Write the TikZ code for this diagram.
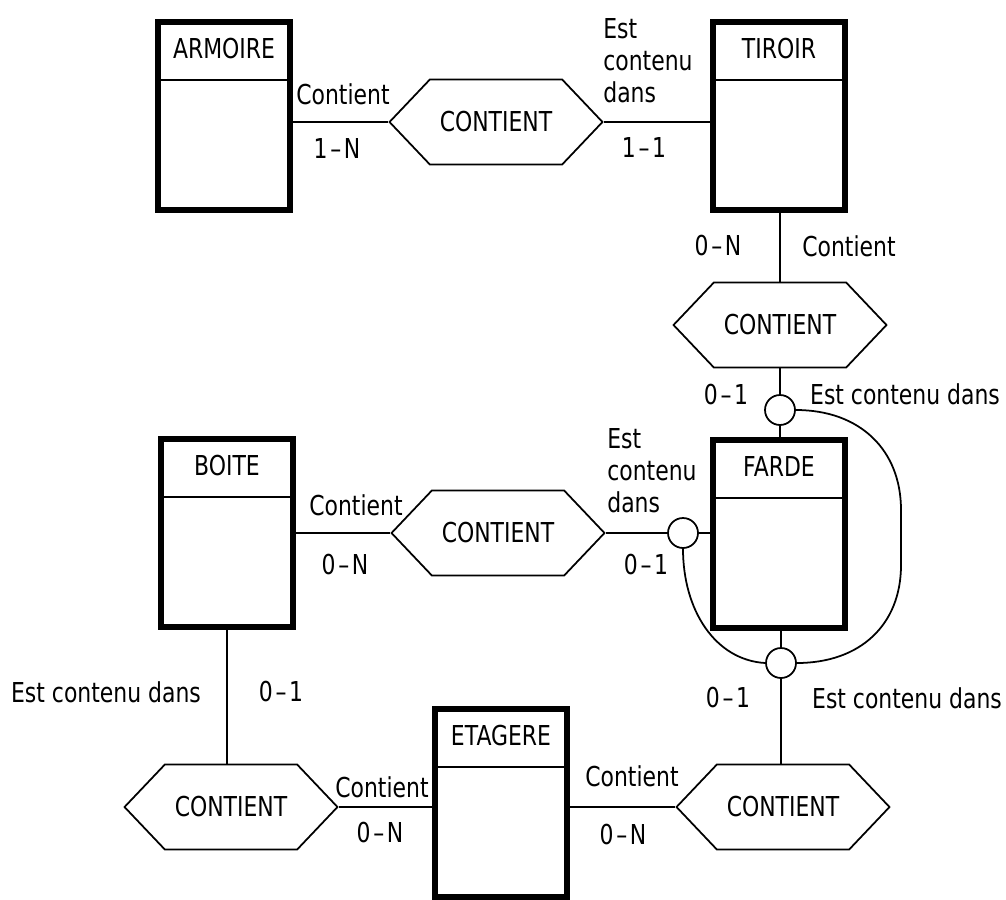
\documentclass[tikz,border=0pt]{standalone}
\usepackage{fontspec}
\setmainfont[FakeStretch=0.8]{DejaVu Sans}
\usetikzlibrary{shapes.symbols}

\begin{document}
\begin{tikzpicture}[
x=0.02cm, y=-0.02cm,
entite/.style={
rectangle,
draw,
line width=3pt,
minimum width=2.64cm,
inner xsep=0pt,
inner ysep=0pt,
text height=0.72cm,
text depth=3.04cm,
font=\fontsize{15.6}{18.2}\selectfont,
path picture={\draw[line width=1pt] ([yshift=-1.16cm]path picture bounding box.north west) -- ([yshift=-1.16cm]path picture bounding box.north east);}
},
relation/.style={
signal,
signal to=east and west,
signal pointer angle=93,
draw,
line width=1pt,
minimum width=4.26cm,
minimum height=1.7cm,
inner sep=0pt,
font=\fontsize{15.6}{18.2}\selectfont
},
rond/.style={
circle,
draw,
line width=1pt,
minimum size=0.6cm,
inner sep=0pt
},
role/.style={
inner sep=0pt,
align=left,
font=\fontsize{15.6}{18.2}\selectfont
},
lien/.style={line width=1pt}
]
\useasboundingbox (0,0) rectangle (1006,899);

\node[entite] (armoire) at (224,116) {ARMOIRE};
\node[entite] (tiroir) at (779,116) {TIROIR};
\node[entite] (boite) at (227,533) {BOITE};
\node[entite] (farde) at (779,534) {FARDE};
\node[entite] (etagere) at (501,803) {ETAGERE};

\node[relation] (relarm) at (496,122) {CONTIENT};
\node[relation] (reltir) at (780,325) {CONTIENT};
\node[relation] (relboi) at (498,533) {CONTIENT};
\node[relation] (reletd) at (783,807) {CONTIENT};
\node[relation] (reletg) at (231,807) {CONTIENT};

\node[rond] (rondhaut) at (780,410) {};
\node[rond] (rondgau) at (683,533) {};
\node[rond] (rondbas) at (781,663) {};

\node[role] (r1) at (343,94) {Contient};
\node[role] (r2) at (337,149) {1\kern1.5pt–\kern1.5pt N};
\node[role, anchor=north west] (r3) at (603,18) {Est\\contenu\\dans};
\node[role] (r4) at (644,148) {1\kern1.5pt–\kern1.5pt 1};
\node[role] (r5) at (718,246) {0\kern1.5pt–\kern1.5pt N};
\node[role] (r6) at (849,246) {Contient};
\node[role] (r7) at (726,395) {0\kern1.5pt–\kern1.5pt 1};
\node[role] (r8) at (905,394) {Est contenu dans};
\node[role, anchor=north west] (r9) at (607,428) {Est\\contenu\\dans};
\node[role] (r10) at (646,565) {0\kern1.5pt–\kern1.5pt 1};
\node[role] (r11) at (356,505) {Contient};
\node[role] (r12) at (345,565) {0\kern1.5pt–\kern1.5pt N};
\node[role] (r13) at (106,692) {Est contenu dans};
\node[role] (r14) at (281,692) {0\kern1.5pt–\kern1.5pt 1};
\node[role] (r15) at (728,698) {0\kern1.5pt–\kern1.5pt 1};
\node[role] (r16) at (907,698) {Est contenu dans};
\node[role] (r17) at (382,787) {Contient};
\node[role] (r18) at (380,833) {0\kern1.5pt–\kern1.5pt N};
\node[role] (r19) at (632,776) {Contient};
\node[role] (r20) at (623,835) {0\kern1.5pt–\kern1.5pt N};

\draw[lien] (armoire.east |- relarm.west) -- (relarm.west);
\draw[lien] (relarm.east) -- (relarm.east -| tiroir.west);
\draw[lien] (reltir.north) -- (reltir.north |- tiroir.south);
\draw[lien] (rondhaut.north) -- (rondhaut.north |- reltir.south);
\draw[lien] (rondhaut.south) -- (rondhaut.south |- farde.north);
\draw[lien] (boite.east |- relboi.west) -- (relboi.west);
\draw[lien] (relboi.east) -- (rondgau.west);
\draw[lien] (rondgau.east) -- (rondgau.east -| farde.west);
\draw[lien] (rondbas.north) -- (rondbas.north |- farde.south);
\draw[lien] (rondbas.south) -- (rondbas.south |- reletd.north);
\draw[lien] (boite.south) -- (boite.south |- reletg.north);
\draw[lien] (reletg.east) -- (reletg.east -| etagere.west);
\draw[lien] (etagere.east |- reletd.west) -- (reletd.west);

\draw[lien] (rondhaut.east) .. controls (860,410) and (901,450) .. (901,510) -- (901,565) .. controls (901,625) and (860,663) .. (rondbas.east);
\draw[lien] (rondgau.south) .. controls (683,610) and (715,660) .. (rondbas.west);

\end{tikzpicture}
\end{document}
